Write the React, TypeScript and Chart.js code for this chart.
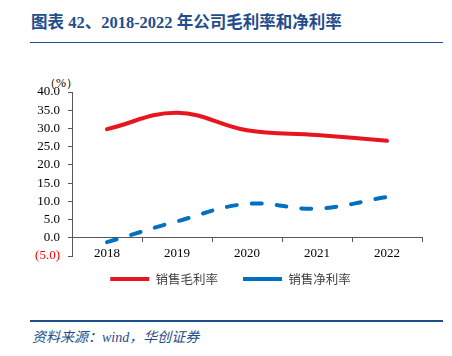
import React, { useEffect, useRef } from "react";
import { Chart, registerables } from "chart.js";

Chart.register(...registerables);

const years = ["2018", "2019", "2020", "2021", "2022"];
const grossMargin = [29.8, 34.3, 29.5, 28.2, 26.6];
const netMargin = [-1.2, 4.5, 9.3, 8.0, 11.2];
const seriesNames = ["销售毛利率", "销售净利率"];
const yMin = -5;
const yMax = 40;
const yStep = 5;

const titleText = "图表 42、2018-2022 年公司毛利率和净利率";
const sourceText = "资料来源：wind，华创证券";
const unitText = "（%）";

const NAVY = "#1F4E8C";
const RED = "#E8141E";
const BLUE = "#0070C0";

const CANVAS_TOP = 60;
const LEGEND_FONT = 12.5;
const LEGEND_PAD = 25;
const LEGEND_CENTER_Y = 279;
const LEGEND_LEFT = 39;

const legendShift = {
  id: "legendShift",
  afterLayout(chart: any) {
    const l = chart.legend;
    if (!l) return;
    const target = LEGEND_CENTER_Y - CANVAS_TOP - LEGEND_PAD - LEGEND_FONT / 2;
    const dy = l.top - target;
    l.top -= dy;
    l.bottom -= dy;
    l.left = LEGEND_LEFT;
    l.width = l.right - l.left;
  },
};

export default function App() {
  const ref = useRef<HTMLCanvasElement>(null);

  useEffect(() => {
    if (!ref.current) return;
    const chart = new Chart(ref.current, {
      type: "line",
      data: {
        labels: years,
        datasets: [
          {
            label: seriesNames[0],
            data: grossMargin,
            borderColor: RED,
            backgroundColor: RED,
            borderWidth: 4,
            tension: 0.4,
            pointRadius: 0,
            borderCapStyle: "round",
            fill: false,
          },
          {
            label: seriesNames[1],
            data: netMargin,
            borderColor: BLUE,
            backgroundColor: BLUE,
            borderWidth: 4,
            borderDash: [10, 15],
            borderCapStyle: "round",
            tension: 0.4,
            pointRadius: 0,
            fill: false,
          },
        ],
      },
      options: {
        animation: false,
        responsive: false,
        maintainAspectRatio: false,
        layout: { padding: { top: 32, right: 30, left: 0, bottom: 6.5 } },
        plugins: {
          tooltip: { enabled: false },
          legend: {
            position: "bottom",
            labels: {
              usePointStyle: true,
              pointStyle: "line",
              pointStyleWidth: 39,
              boxHeight: 12,
              padding: LEGEND_PAD,
              color: "#404040",
              font: { family: "'Noto Sans CJK SC', sans-serif", size: LEGEND_FONT },
            },
          },
        },
        scales: {
          x: {
            position: { y: 0 } as any,
            offset: true,
            grid: {
              offset: true,
              drawOnChartArea: false,
              drawTicks: true,
              tickLength: 4,
              color: "#595959",
            },
            border: { color: "#595959", width: 1 },
            ticks: {
              color: "#000",
              padding: 4,
              maxRotation: 0,
              font: { family: "'Liberation Serif', serif", size: 13 },
            },
          },
          y: {
            min: yMin,
            max: yMax,
            grid: {
              drawOnChartArea: false,
              drawTicks: true,
              tickLength: 4,
              color: "#595959",
            },
            border: { color: "#595959", width: 1 },
            afterFit: (scale: any) => {
              scale.width = 72;
            },
            ticks: {
              stepSize: yStep,
              autoSkip: false,
              padding: 8,
              color: (ctx: any) => (ctx.tick && ctx.tick.value < 0 ? "#FF0000" : "#000"),
              font: { family: "'Liberation Serif', serif", size: 13 },
              callback: (v: any) => {
                const n = Number(v);
                return n < 0 ? `(${Math.abs(n).toFixed(1)})` : n.toFixed(1);
              },
            },
          },
        },
      },
      plugins: [legendShift],
    });
    return () => chart.destroy();
  }, []);

  return (
    <div
      style={{
        position: "fixed",
        left: 0,
        top: 0,
        width: 452,
        height: 356,
        background: "#fff",
        overflow: "hidden",
      }}
    >
      <div
        style={{
          position: "absolute",
          left: 31,
          top: 13,
          fontFamily: "'Liberation Serif', 'Noto Sans CJK SC', serif",
          fontWeight: "bold",
          fontSize: 16.5,
          color: NAVY,
          whiteSpace: "nowrap",
          lineHeight: "20px",
        }}
      >
        {titleText}
      </div>
      <div
        style={{
          position: "absolute",
          left: 30,
          top: 41.5,
          width: 413,
          height: 1.5,
          background: NAVY,
        }}
      />
      <div
        style={{
          position: "absolute",
          left: 44,
          top: 76,
          fontFamily: "'Liberation Serif', serif",
          fontSize: 12,
          color: "#000",
          lineHeight: "14px",
          whiteSpace: "nowrap",
        }}
      >
        {unitText}
      </div>
      <canvas
        ref={ref}
        width={452}
        height={250}
        style={{ position: "absolute", left: 0, top: CANVAS_TOP, width: 452, height: 250 }}
      />
      <div
        style={{
          position: "absolute",
          left: 30,
          top: 320,
          width: 413,
          height: 1.5,
          background: NAVY,
        }}
      />
      <div
        style={{
          position: "absolute",
          left: 32,
          top: 330,
          fontFamily: "'Liberation Serif', 'Noto Sans CJK SC', serif",
          fontStyle: "italic",
          fontSize: 14,
          color: NAVY,
          whiteSpace: "nowrap",
          lineHeight: "16px",
        }}
      >
        {sourceText}
      </div>
    </div>
  );
}
